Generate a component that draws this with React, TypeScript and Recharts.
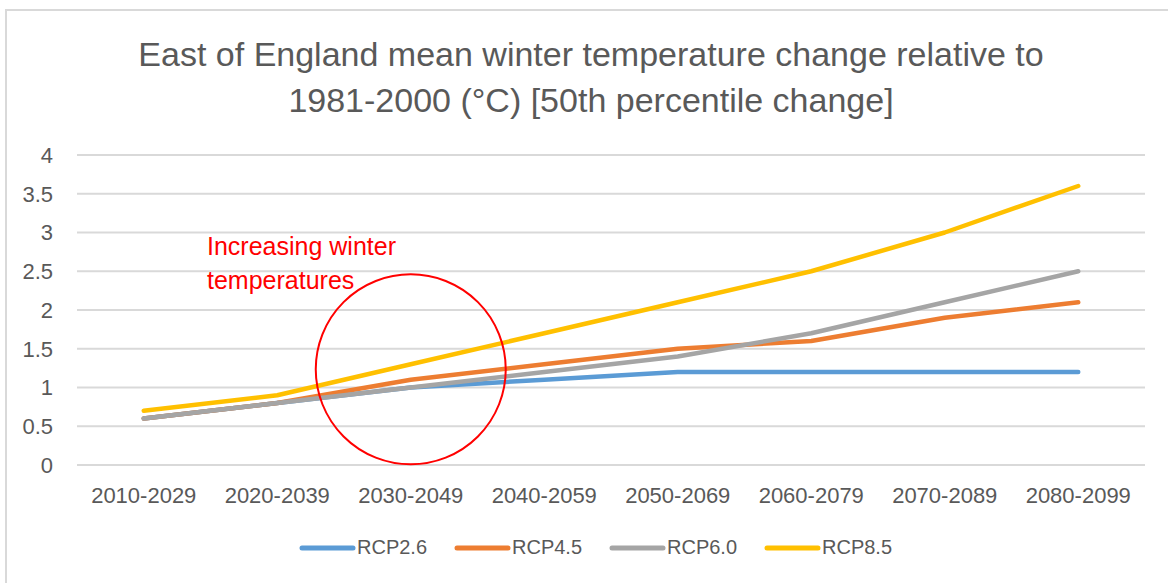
import React from "react";
import { LineChart, Line, XAxis, YAxis, CartesianGrid, ReferenceDot } from "recharts";

const categories = ["2010-2029", "2020-2039", "2030-2049", "2040-2059", "2050-2069", "2060-2079", "2070-2089", "2080-2099"];
const rcp26 = [0.6, 0.8, 1.0, 1.1, 1.2, 1.2, 1.2, 1.2];
const rcp45 = [0.6, 0.8, 1.1, 1.3, 1.5, 1.6, 1.9, 2.1];
const rcp60 = [0.6, 0.8, 1.0, 1.2, 1.4, 1.7, 2.1, 2.5];
const rcp85 = [0.7, 0.9, 1.3, 1.7, 2.1, 2.5, 3.0, 3.6];
const yTicks = [0, 0.5, 1, 1.5, 2, 2.5, 3, 3.5, 4];

const seriesNames = ["RCP2.6", "RCP4.5", "RCP6.0", "RCP8.5"];
const seriesColors = ["#5B9BD5", "#ED7D31", "#A5A5A5", "#FFC000"];
const seriesValues = [rcp26, rcp45, rcp60, rcp85];

const data = categories.map((c, i) => {
  const row: Record<string, string | number> = { cat: c };
  seriesNames.forEach((n, s) => {
    row[n] = seriesValues[s][i];
  });
  return row;
});

const FONT = "'Liberation Sans', Arial, sans-serif";
const TEXT = "#595959";

const LegendBlock = () => (
  <div style={{ position: "absolute", left: 299, top: 536, display: "flex", fontFamily: FONT }}>
    {seriesNames.map((n, i) => (
      <div key={n} style={{ width: 155, display: "flex", alignItems: "center" }}>
        <svg width={57} height={10} style={{ display: "block" }}>
          <line x1={3} y1={5} x2={54} y2={5} stroke={seriesColors[i]} strokeWidth={5} strokeLinecap="round" />
        </svg>
        <span style={{ fontSize: 20, color: TEXT, marginLeft: 1 }}>{n}</span>
      </div>
    ))}
  </div>
);

export default function App() {
  return (
    <div style={{ position: "absolute", left: 0, top: 0, width: 1168, height: 583, background: "#fff", overflow: "hidden" }}>
      <div style={{ position: "absolute", left: 5, top: 9, width: 1300, height: 800, border: "2px solid #d9d9d9" }} />
      <div
        style={{
          position: "absolute",
          left: 0,
          top: 31,
          width: 1182,
          textAlign: "center",
          fontFamily: FONT,
          fontSize: 34,
          lineHeight: "46px",
          color: TEXT,
        }}
      >
        East of England mean winter temperature change relative to
        <br />
        1981-2000 (°C) [50th percentile change]
      </div>
      <div style={{ position: "absolute", left: 0, top: 0 }}>
        <LineChart width={1168} height={583} data={data} margin={{ top: 155, right: 23, bottom: 88, left: 0 }}>
          <CartesianGrid vertical={false} stroke="#d9d9d9" strokeWidth={2} />
          <XAxis
            dataKey="cat"
            height={30}
            padding={{ left: 66.75, right: 66.75 }}
            axisLine={false}
            tickLine={false}
            tickSize={0}
            tickMargin={22}
            interval={0}
            tick={{ fill: TEXT, fontSize: 22, fontFamily: FONT }}
          />
          <YAxis
            width={77}
            domain={[0, 4]}
            ticks={yTicks}
            axisLine={false}
            tickLine={false}
            tickSize={0}
            tickMargin={24}
            tick={{ fill: TEXT, fontSize: 22, fontFamily: FONT }}
          />
          {seriesNames.map((n, i) => (
            <Line
              key={n}
              type="linear"
              dataKey={n}
              stroke={seriesColors[i]}
              strokeWidth={4.5}
              strokeLinecap="round"
              strokeLinejoin="round"
              dot={false}
              activeDot={false}
              isAnimationActive={false}
            />
          ))}
          <ReferenceDot
            x="2030-2049"
            y={1.235}
            r={95}
            fill="none"
            stroke="#FF0000"
            strokeWidth={2}
            ifOverflow="visible"
          />
        </LineChart>
      </div>
      <div
        style={{
          position: "absolute",
          left: 207,
          top: 229,
          fontFamily: FONT,
          fontSize: 25,
          lineHeight: "34px",
          color: "#FF0000",
          whiteSpace: "nowrap",
        }}
      >
        Increasing winter
        <br />
        temperatures
      </div>
      <LegendBlock />
    </div>
  );
}
